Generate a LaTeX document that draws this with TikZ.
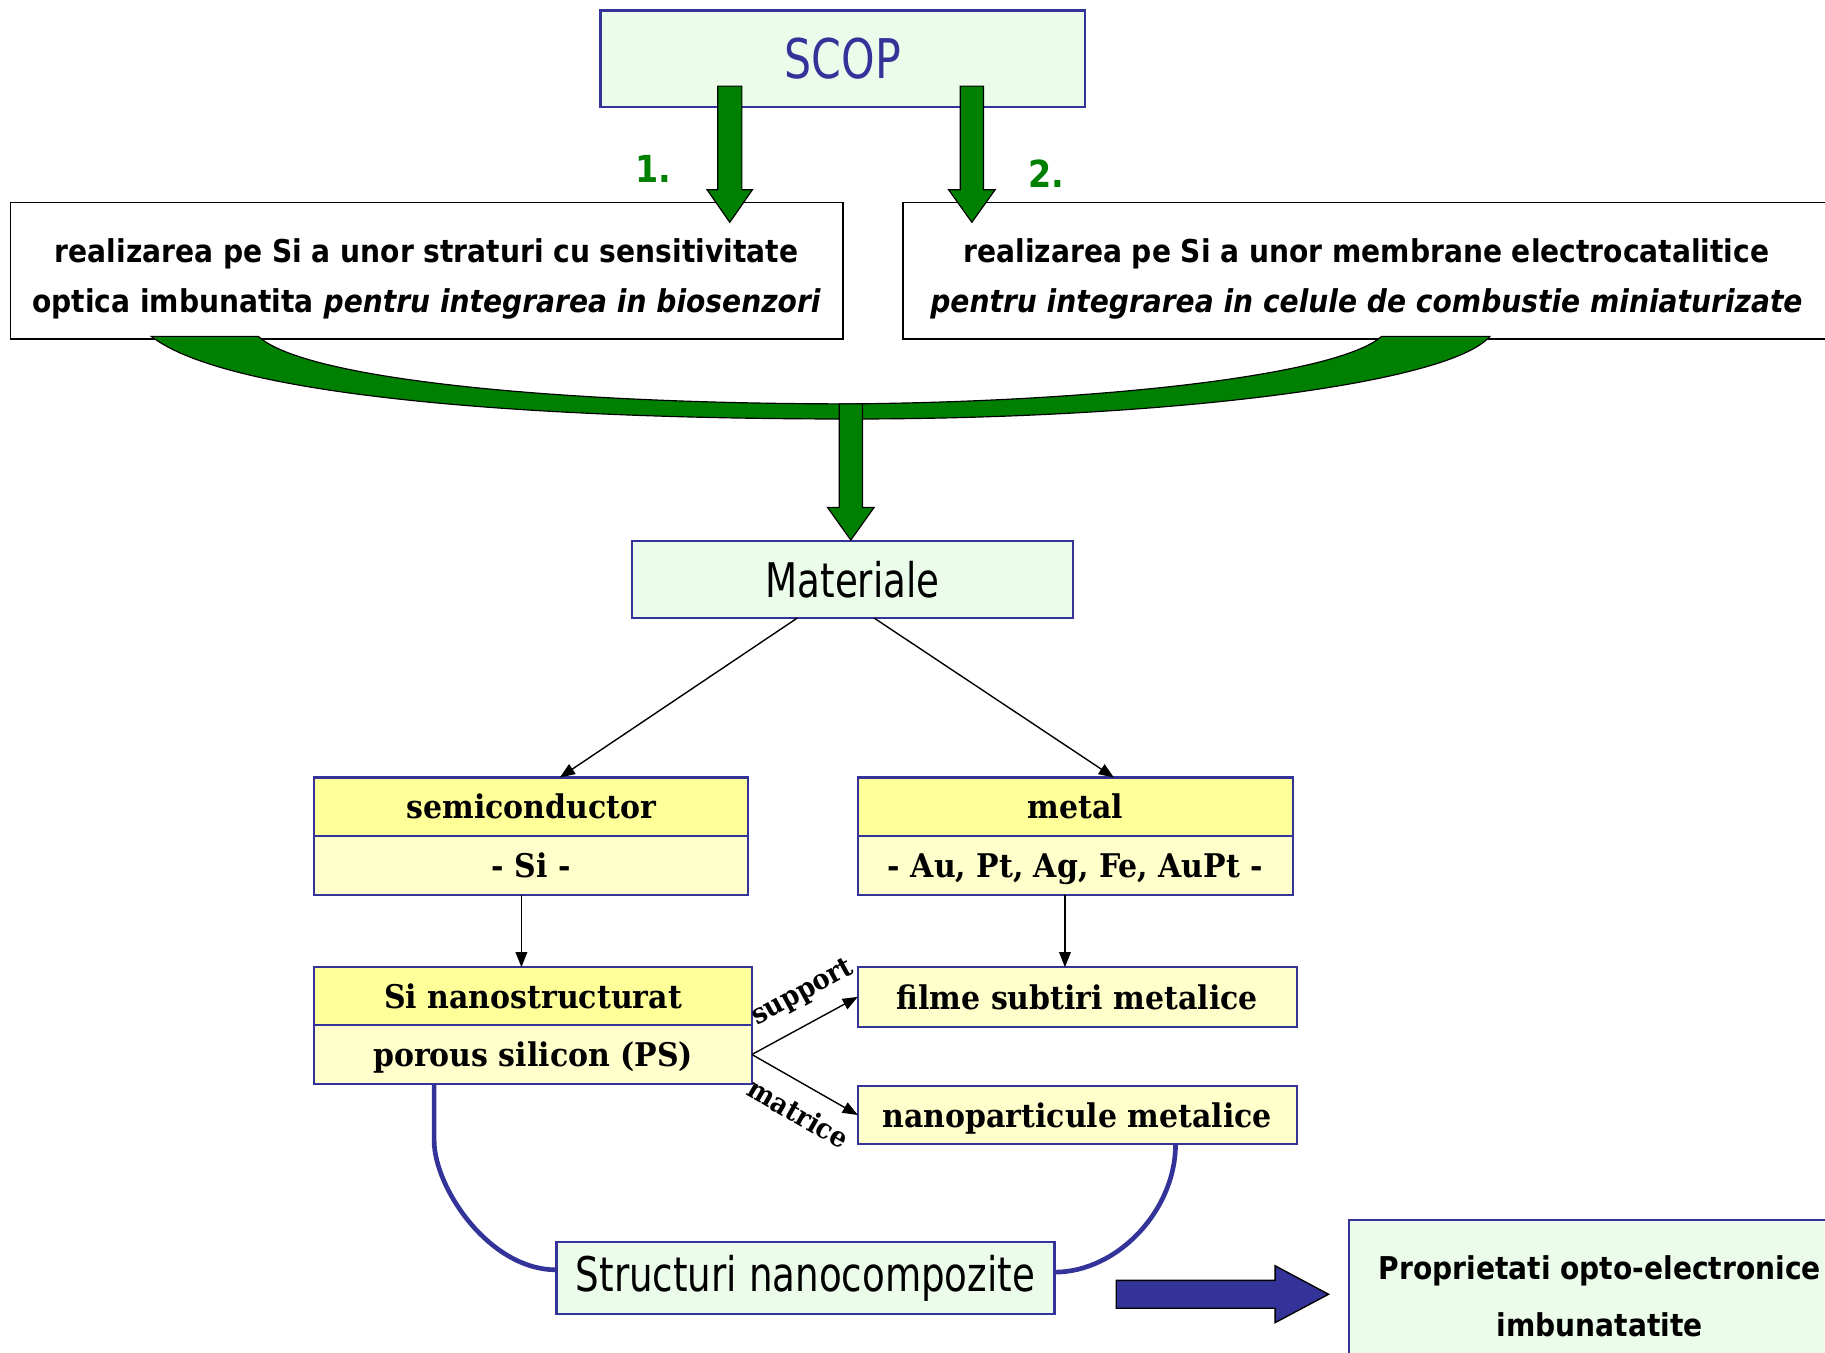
\documentclass[tikz,border=0pt]{standalone}
\usepackage{fontspec}
\usetikzlibrary{arrows.meta,calc}
\newfontfamily\tahR[FakeStretch=0.78]{DejaVu Sans}
\newfontfamily\tahB[FakeStretch=0.895]{DejaVu Sans}
\newfontfamily\bookB[FakeStretch=0.92]{DejaVu Serif}
\definecolor{bordblue}{RGB}{51,51,153}
\definecolor{lgreen}{RGB}{235,252,235}
\definecolor{dgreen}{RGB}{0,128,0}
\definecolor{yel}{RGB}{255,255,153}
\definecolor{lyel}{RGB}{255,255,204}
\newcommand{\dnarrow}[6]{\draw[garrow] ({#1-#5},#2) -- ({#1+#5},#2) -- ({#1+#5},#3) -- ({#1+#6},#3) -- (#1,#4) -- ({#1-#6},#3) -- ({#1-#5},#3) -- cycle;}
\begin{document}
\begin{tikzpicture}[x=0.5pt,y=-0.5pt,
  gbox/.style={draw=bordblue, line width=1pt, fill=lgreen, inner sep=0pt, outer sep=0pt, align=center},
  wbox/.style={draw=black, line width=0.8pt, fill=white, inner sep=0pt, outer sep=0pt},
  wtext/.style={align=center, inner sep=0pt, font=\tahB\bfseries\fontsize{13.5}{21.5}\selectfont},
  ybox/.style={draw=bordblue, line width=0.9pt, fill=yel, inner sep=0pt, outer sep=0pt,
    text height=10.5pt, text depth=0pt, font=\bookB\bfseries\fontsize{14}{16}\selectfont},
  lybox/.style={ybox, fill=lyel},
  conn/.style={line width=0.6pt, -{Triangle[length=6.5pt,width=5pt]}},
  blueline/.style={draw=bordblue, line width=2pt},
  garrow/.style={fill=dgreen, draw=black, line width=0.5pt},
  numlab/.style={text=dgreen, font=\tahB\bfseries\fontsize{16}{18}\selectfont},
  edgelab/.style={font=\bookB\bfseries\fontsize{12}{13}\selectfont, inner sep=1.5pt},
]
\useasboundingbox (0,0) rectangle (1568,1162);

% top
\node[gbox, minimum width=208pt, minimum height=41.5pt, text=bordblue,
  font=\tahR\fontsize{23.5}{26}\selectfont] (scop) at (724,50.5) {SCOP};

\node[wbox, minimum width=357.5pt, minimum height=58.5pt] (box1) at (366.5,232.5) {};
\node[wtext] (box1t) at ($(box1.center)+(0,7.5)$)
  {realizarea pe Si a unor straturi cu sensitivitate\\optica imbunatita \textit{pentru integrarea in biosenzori}};
\node[wbox, minimum width=398pt, minimum height=58.5pt] (box2) at (1174,232.5) {};
\node[wtext] (box2t) at ($(box2.center)+(0,7.5)$)
  {realizarea pe Si a unor membrane electrocatalitice\\\textit{pentru integrarea in celule de combustie miniaturizate}};

\dnarrow{627}{74}{163}{191}{10.4}{19.5}
\dnarrow{835}{74}{163}{191}{10}{20}
\node[numlab] (n1) at (561,145) {1.};
\node[numlab] (n2) at (899,149) {2.};

% merging arrow
\draw[garrow] (130,289) -- (222,289) .. controls (262,326) and (480,347) .. (731,347)
  .. controls (950,345) and (1150,322) .. (1187,289) -- (1280,289)
  .. controls (1245,330) and (1000,360) .. (731,360)
  .. controls (450,360) and (195,340) .. (130,289) -- cycle;

\node[gbox, minimum width=189.5pt, minimum height=33pt,
  font=\tahR\fontsize{20.5}{24}\selectfont] (mat) at (732.5,498) {Materiale};
\dnarrow{731}{347}{436}{464}{10}{20}

% materials
\node[ybox, minimum width=186.5pt, minimum height=25pt] (semiT) at (456.5,693) {semiconductor};
\node[lybox, minimum width=186.5pt, minimum height=25.5pt] (semiB) at (456.5,743.5) {- Si -};
\node[ybox, minimum width=187pt, minimum height=25pt] (metT) at (924,693) {metal};
\node[lybox, minimum width=187pt, minimum height=25.5pt] (metB) at (924,743.5) {- Au, Pt, Ag, Fe, AuPt -};

\node[ybox, minimum width=188pt, minimum height=25pt] (siT) at (458,856) {Si nanostructurat};
\node[lybox, minimum width=188pt, minimum height=25pt] (siB) at (458,906) {porous silicon (PS)};
\node[lybox, minimum width=188.5pt, minimum height=25.5pt] (film) at (925.5,856.5) {filme subtiri metalice};
\node[lybox, minimum width=188.5pt, minimum height=25pt] (nano) at (925.5,958) {nanoparticule metalice};

\draw[conn] ($(mat.south)+(-47.5,0)$) -- ($(semiT.north)+(24.5,0)$);
\draw[conn] ($(mat.south)+(18.5,0)$) -- ($(metT.north)+(33,0)$);
\draw[conn] ($(semiB.south)+(-8.5,0)$) -- ($(siT.north)+(-10,0)$);
\draw[conn] ($(metB.south)+(-9,0)$) -- ($(film.north)+(-10.5,0)$);
\draw[conn] (siB.east) -- node[edgelab, sloped, above=5.5pt, pos=0.615] {support} (film.west);
\draw[conn] (siB.east) -- node[edgelab, sloped, below=5.5pt, pos=0.57] {matrice} (nano.west);

% bottom
\node[gbox, minimum width=214pt, minimum height=31pt,
  font=\tahR\fontsize{20.5}{24}\selectfont] (struct) at (692,1098) {Structuri nanocompozite};
\draw[blueline] ($(siB.south)+(-85,0)$) -- ++(0,49)
  .. controls +(0,40) and +(-58,0) .. ($(struct.west)+(0,-7)$);
\draw[blueline] ($(nano.south)+(84.5,0)$)
  .. controls +(0,57) and +(54,0) .. ($(struct.east)+(0,-5)$);

\node[gbox, minimum width=215.5pt, minimum height=66pt,
  font=\tahB\bfseries\fontsize{13.5}{24.5}\selectfont] (prop) at (1374.5,1114)
  {Proprietati opto-electronice\\imbunatatite};

\draw[fill=bordblue, draw=black, line width=0.6pt] (959,1100) -- (1095.5,1100) -- (1095.5,1087.5)
  -- (1141.4,1112) -- (1095.5,1136.4) -- (1095.5,1124) -- (959,1124) -- cycle;
\end{tikzpicture}
\end{document}
